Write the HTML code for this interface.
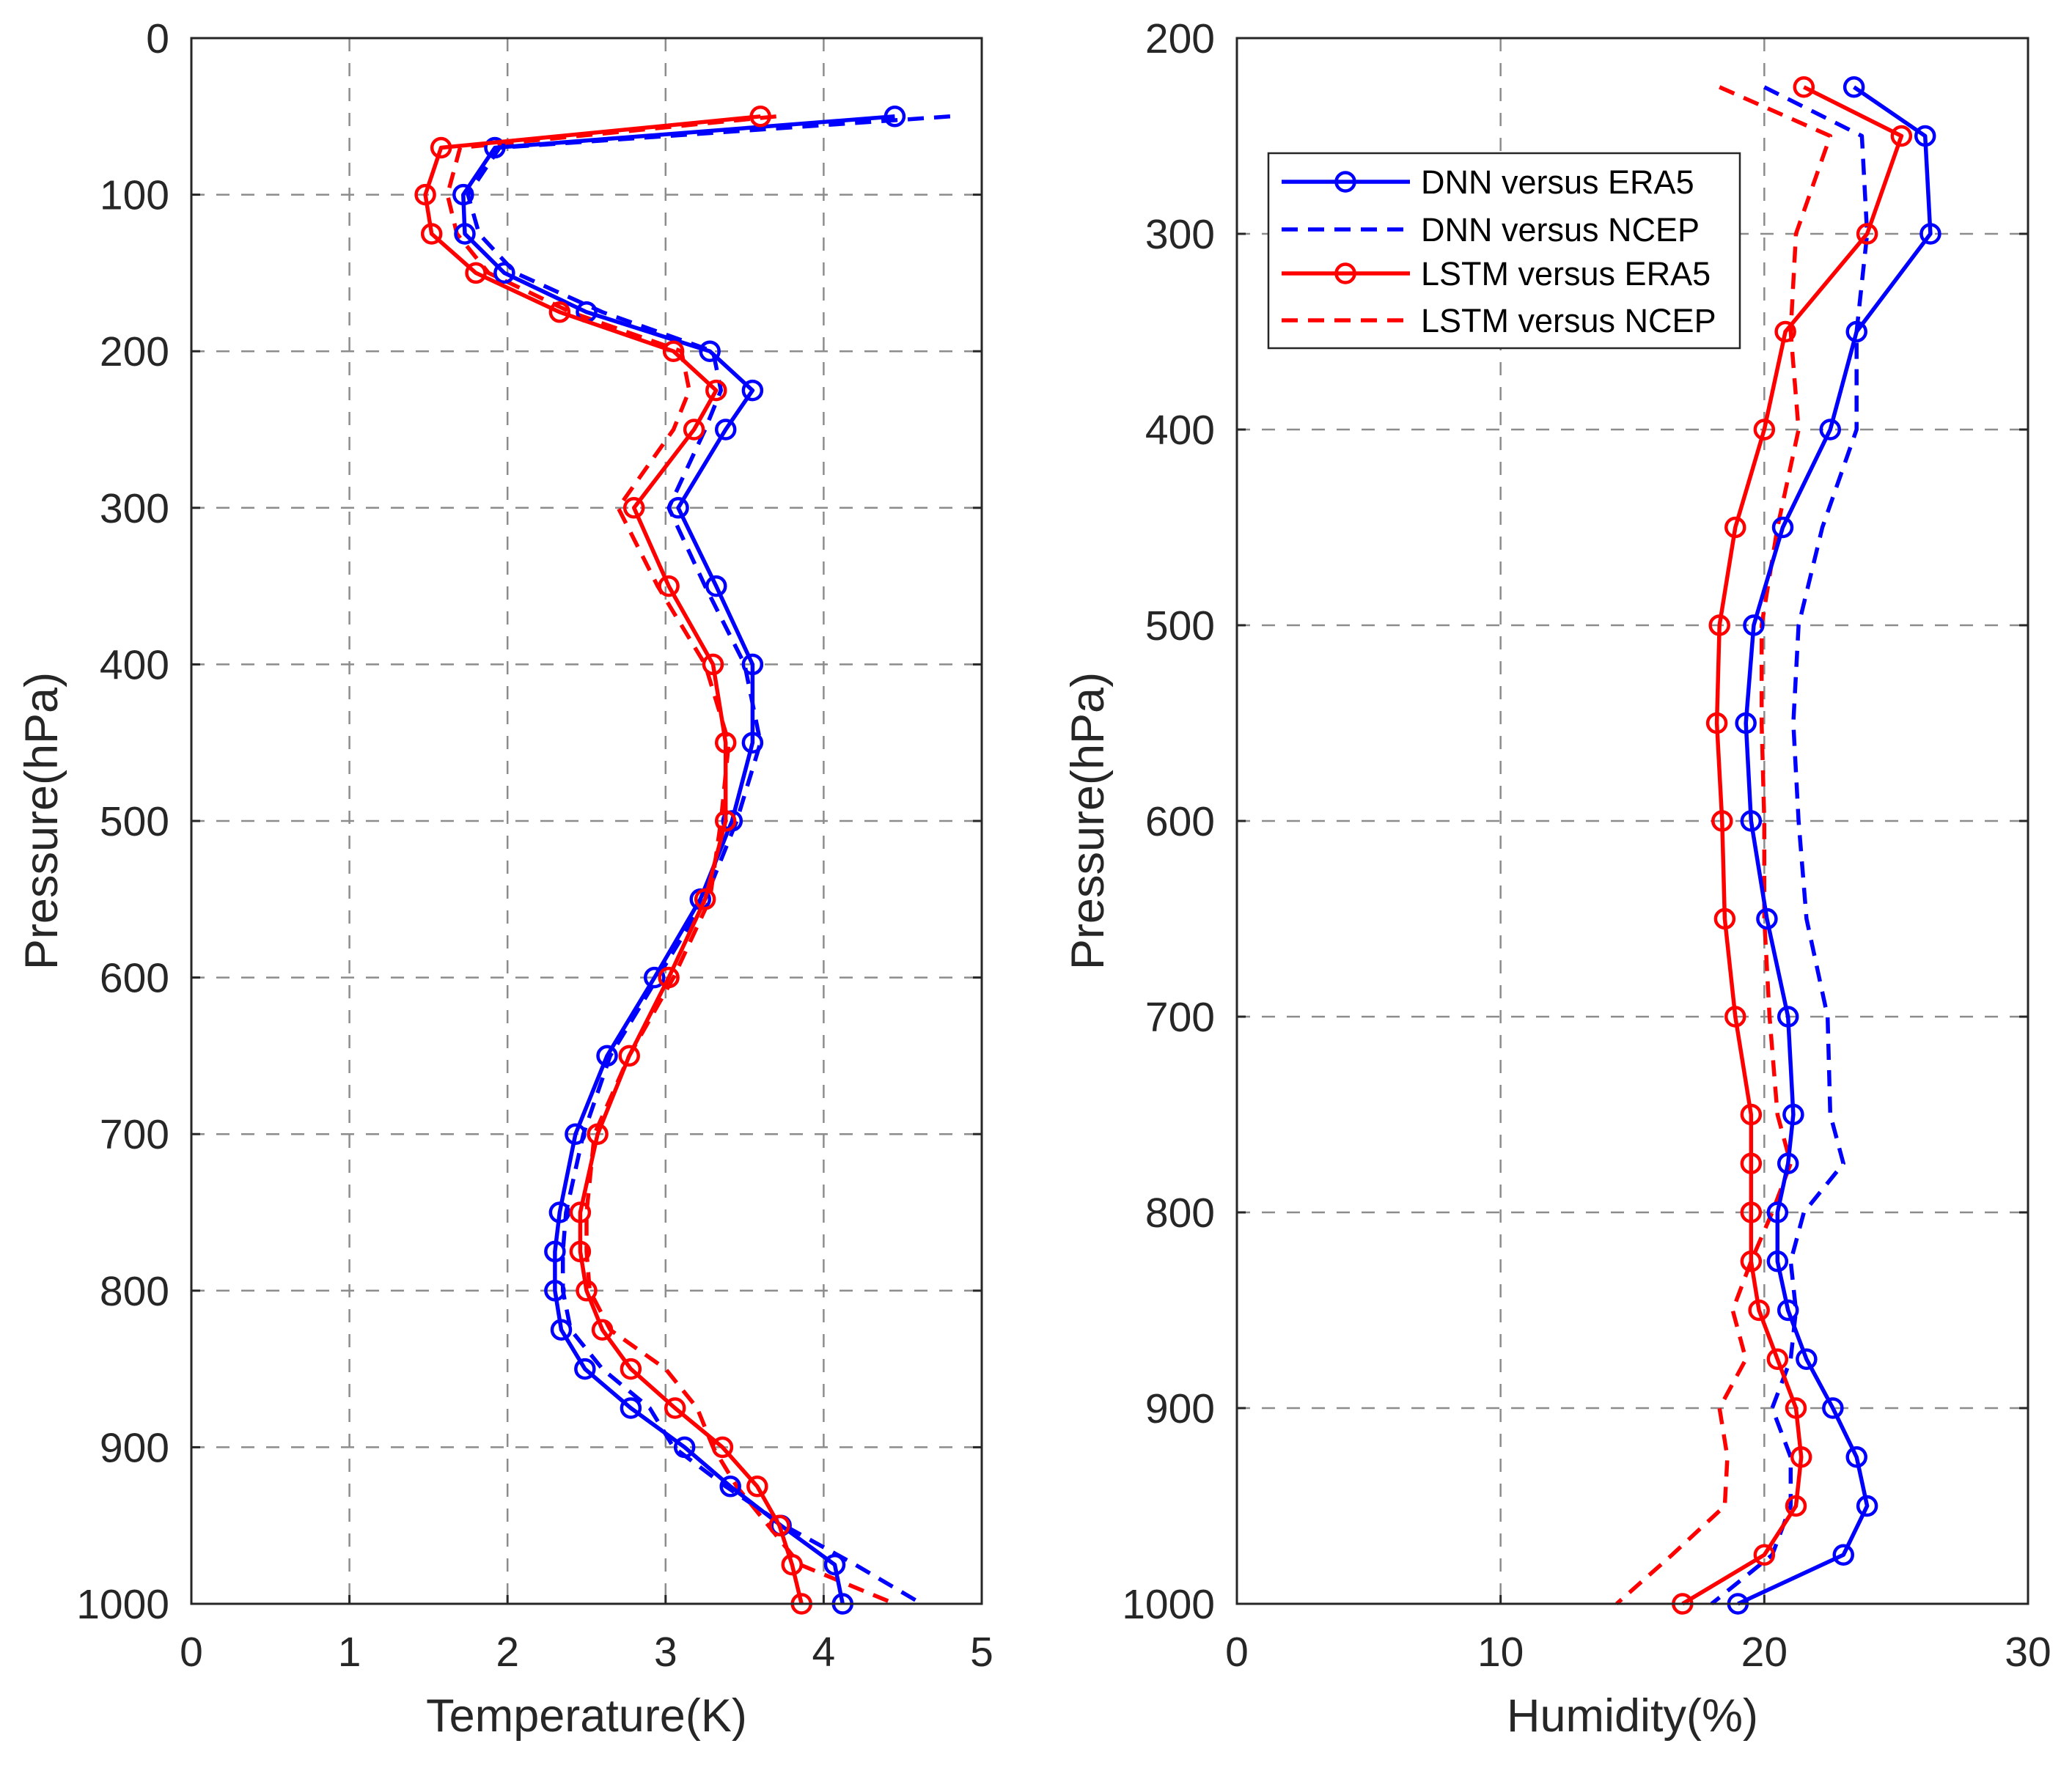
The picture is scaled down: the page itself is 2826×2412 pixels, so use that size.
<!DOCTYPE html>
<html><head><meta charset="utf-8"><style>
html,body{margin:0;padding:0;background:#fff;}
svg{display:block;font-family:"Liberation Sans",Arial,sans-serif;}
</style></head><body>
<svg id="chart" width="2826" height="2412" viewBox="0 0 2826 2412" xmlns="http://www.w3.org/2000/svg">
<rect x="0" y="0" width="2826" height="2412" fill="#fff"/>
<g id="left"></g>
<g id="right"></g>
<g id="legend"></g>
</svg>
<script>
// ---- Temperature panel data ----
const tLevels = [50,70,100,125,150,175,200,225,250,300,350,400,450,500,550,600,650,700,750,775,800,825,850,875,900,925,950,975,1000];
const tDnnEra5 = [4.45,1.92,1.72,1.73,1.98,2.5,3.28,3.55,3.38,3.08,3.32,3.55,3.55,3.42,3.22,2.93,2.63,2.43,2.33,2.30,2.30,2.34,2.49,2.78,3.12,3.41,3.73,4.07,4.12];
const tDnnNcep = [4.8,1.95,1.75,1.82,2.05,2.6,3.3,3.35,3.25,3.02,3.25,3.5,3.6,3.45,3.25,2.95,2.65,2.48,2.37,2.35,2.35,2.40,2.6,2.9,3.05,3.38,3.75,4.2,4.62];
const tLstmEra5 = [3.6,1.58,1.48,1.52,1.80,2.33,3.05,3.32,3.18,2.80,3.02,3.30,3.38,3.38,3.25,3.02,2.77,2.57,2.46,2.46,2.50,2.60,2.78,3.06,3.36,3.58,3.72,3.80,3.86];
const tLstmNcep = [3.7,1.7,1.62,1.68,1.88,2.4,3.1,3.15,3.05,2.70,2.95,3.25,3.40,3.35,3.28,3.05,2.77,2.55,2.50,2.50,2.52,2.65,3.00,3.20,3.30,3.45,3.65,3.85,4.45];
const tXTicks = [0,1,2,3,4,5];
const tYTicks = [0,100,200,300,400,500,600,700,800,900,1000];
// ---- Humidity panel data ----
const hLevels = [225,250,300,350,400,450,500,550,600,650,700,750,775,800,825,850,875,900,925,950,975,1000];
const hDnnEra5 = [23.4,26.1,26.3,23.5,22.5,20.7,19.6,19.3,19.5,20.1,20.9,21.1,20.9,20.5,20.5,20.9,21.6,22.6,23.5,23.9,23.0,19.0];
const hDnnNcep = [20.0,23.7,23.9,23.5,23.5,22.2,21.3,21.1,21.3,21.6,22.4,22.5,23.0,21.5,21.0,21.2,21.0,20.3,21.0,21.0,20.3,18.0];
const hLstmEra5 = [21.5,25.2,23.9,20.8,20.0,18.9,18.3,18.2,18.4,18.5,18.9,19.5,19.5,19.5,19.5,19.8,20.5,21.2,21.4,21.2,20.0,16.9];
const hLstmNcep = [18.3,22.5,21.2,21.0,21.3,20.5,19.9,19.9,20.0,20.0,20.2,20.5,21.0,20.3,19.5,18.8,19.3,18.3,18.6,18.5,16.5,14.4];
const hXTicks = [0,10,20,30];
const hYTicks = [200,300,400,500,600,700,800,900,1000];
const legendLabels = ["DNN versus ERA5","DNN versus NCEP","LSTM versus ERA5","LSTM versus NCEP"];

const NS = "http://www.w3.org/2000/svg";
function mk(tag, attrs, parent){
  const e = document.createElementNS(NS, tag);
  for (const k in attrs) e.setAttribute(k, attrs[k]);
  parent.appendChild(e); return e;
}
const BLUE = "#0000ff", RED = "#ff0000";

function panel(g, box, xMin, xMax, yMin, yMax, xTicks, yTicks, xTitle, yTitleX, series){
  const sx = v => box.x0 + (v - xMin) / (xMax - xMin) * (box.x1 - box.x0);
  const sy = v => box.y0 + (v - yMin) / (yMax - yMin) * (box.y1 - box.y0);
  xTicks.forEach(t => {
    if (t === xMin || t === xMax) return;
    const l = mk('line', {x1:sx(t), x2:sx(t), y1:box.y0, y2:box.y1, stroke:'#8c8c8c', 'stroke-width':2.5, 'stroke-dasharray':'18 16'}, g);
    
    
  });
  yTicks.forEach(t => {
    if (t === yMin || t === yMax) return;
    const l = mk('line', {x1:box.x0, x2:box.x1, y1:sy(t), y2:sy(t), stroke:'#8c8c8c', 'stroke-width':2.5, 'stroke-dasharray':'18 16'}, g);
    
    
  });
  series.forEach(s => {
    const pts = s.vals.map((v,i) => sx(v).toFixed(1) + ',' + sy(s.levels[i]).toFixed(1)).join(' ');
    const pl = mk('polyline', {points:pts, fill:'none', stroke:s.color, 'stroke-width':5.5, 'stroke-linejoin':'round'}, g);
    if (s.dash) pl.setAttribute('stroke-dasharray', '22 14');
    
    
    if (s.marker) {
      s.vals.forEach((v,i) => {
        const c = mk('circle', {cx:sx(v), cy:sy(s.levels[i]), r:12.5, fill:'none', stroke:s.color, 'stroke-width':4.5}, g);
        
        
      });
    }
  });
  const fr = mk('rect', {x:box.x0, y:box.y0, width:box.x1-box.x0, height:box.y1-box.y0, fill:'none', stroke:'#262626', 'stroke-width':3}, g);
  
  
  xTicks.forEach(t => {
    mk('line', {x1:sx(t), x2:sx(t), y1:box.y1, y2:box.y1-12, stroke:'#262626', 'stroke-width':3}, g);
    const tx = mk('text', {x:sx(t), y:box.y1+85, 'text-anchor':'middle', 'font-size':57, fill:'#262626'}, g);
    tx.textContent = t;
    
    
  });
  yTicks.forEach(t => {
    mk('line', {x1:box.x0, x2:box.x0+12, y1:sy(t), y2:sy(t), stroke:'#262626', 'stroke-width':3}, g);
    mk('line', {x1:box.x1, x2:box.x1-12, y1:sy(t), y2:sy(t), stroke:'#262626', 'stroke-width':3}, g);
    const ty = mk('text', {x:box.x0-30, y:sy(t)+20, 'text-anchor':'end', 'font-size':57, fill:'#262626'}, g);
    ty.textContent = t;
    
    
  });
  const xt = mk('text', {x:(box.x0+box.x1)/2, y:2362, 'text-anchor':'middle', 'font-size':63, fill:'#262626'}, g);
  xt.textContent = xTitle;
  
  
  const cy = (box.y0+box.y1)/2;
  const yt = mk('text', {x:yTitleX, y:cy, 'text-anchor':'middle', 'font-size':63, fill:'#262626', transform:'rotate(-90 '+yTitleX+' '+cy+')'}, g);
  yt.textContent = 'Pressure(hPa)';
  
  
}

panel(document.getElementById('left'), {x0:261, x1:1339, y0:52, y1:2188}, 0, 5, 0, 1000, tXTicks, tYTicks, 'Temperature(K)', 78, [
  {name:'dnn-ncep-temp', vals:tDnnNcep, levels:tLevels, color:BLUE, dash:true, marker:false},
  {name:'lstm-ncep-temp', vals:tLstmNcep, levels:tLevels, color:RED, dash:true, marker:false},
  {name:'dnn-era5-temp', vals:tDnnEra5, levels:tLevels, color:BLUE, dash:false, marker:true},
  {name:'lstm-era5-temp', vals:tLstmEra5, levels:tLevels, color:RED, dash:false, marker:true}
]);
panel(document.getElementById('right'), {x0:1687, x1:2766, y0:52, y1:2188}, 0, 30, 200, 1000, hXTicks, hYTicks, 'Humidity(%)', 1505, [
  {name:'dnn-ncep-hum', vals:hDnnNcep, levels:hLevels, color:BLUE, dash:true, marker:false},
  {name:'lstm-ncep-hum', vals:hLstmNcep, levels:hLevels, color:RED, dash:true, marker:false},
  {name:'dnn-era5-hum', vals:hDnnEra5, levels:hLevels, color:BLUE, dash:false, marker:true},
  {name:'lstm-era5-hum', vals:hLstmEra5, levels:hLevels, color:RED, dash:false, marker:true}
]);

(function(){
  const g = document.getElementById('legend');
  const bx = mk('rect', {x:1730, y:209, width:643, height:266, fill:'#fff', stroke:'#262626', 'stroke-width':2.5}, g);
  
  
  const rows = [248, 313, 373, 437];
  const cols = [BLUE, BLUE, RED, RED];
  legendLabels.forEach((lab, i) => {
    const y = rows[i];
    const ln = mk('line', {x1:1748, x2:1923, y1:y, y2:y, stroke:cols[i], 'stroke-width':5.5}, g);
    if (i % 2 === 1) ln.setAttribute('stroke-dasharray', '22 14');
    
    
    if (i % 2 === 0) {
      const c = mk('circle', {cx:1835, cy:y, r:12.5, fill:'none', stroke:cols[i], 'stroke-width':4.5}, g);
      
      
    }
    const t = mk('text', {x:1938, y:y+16, 'font-size':45, fill:'#000'}, g);
    t.textContent = lab;
    
    
  });
})();
</script>
</body></html>
